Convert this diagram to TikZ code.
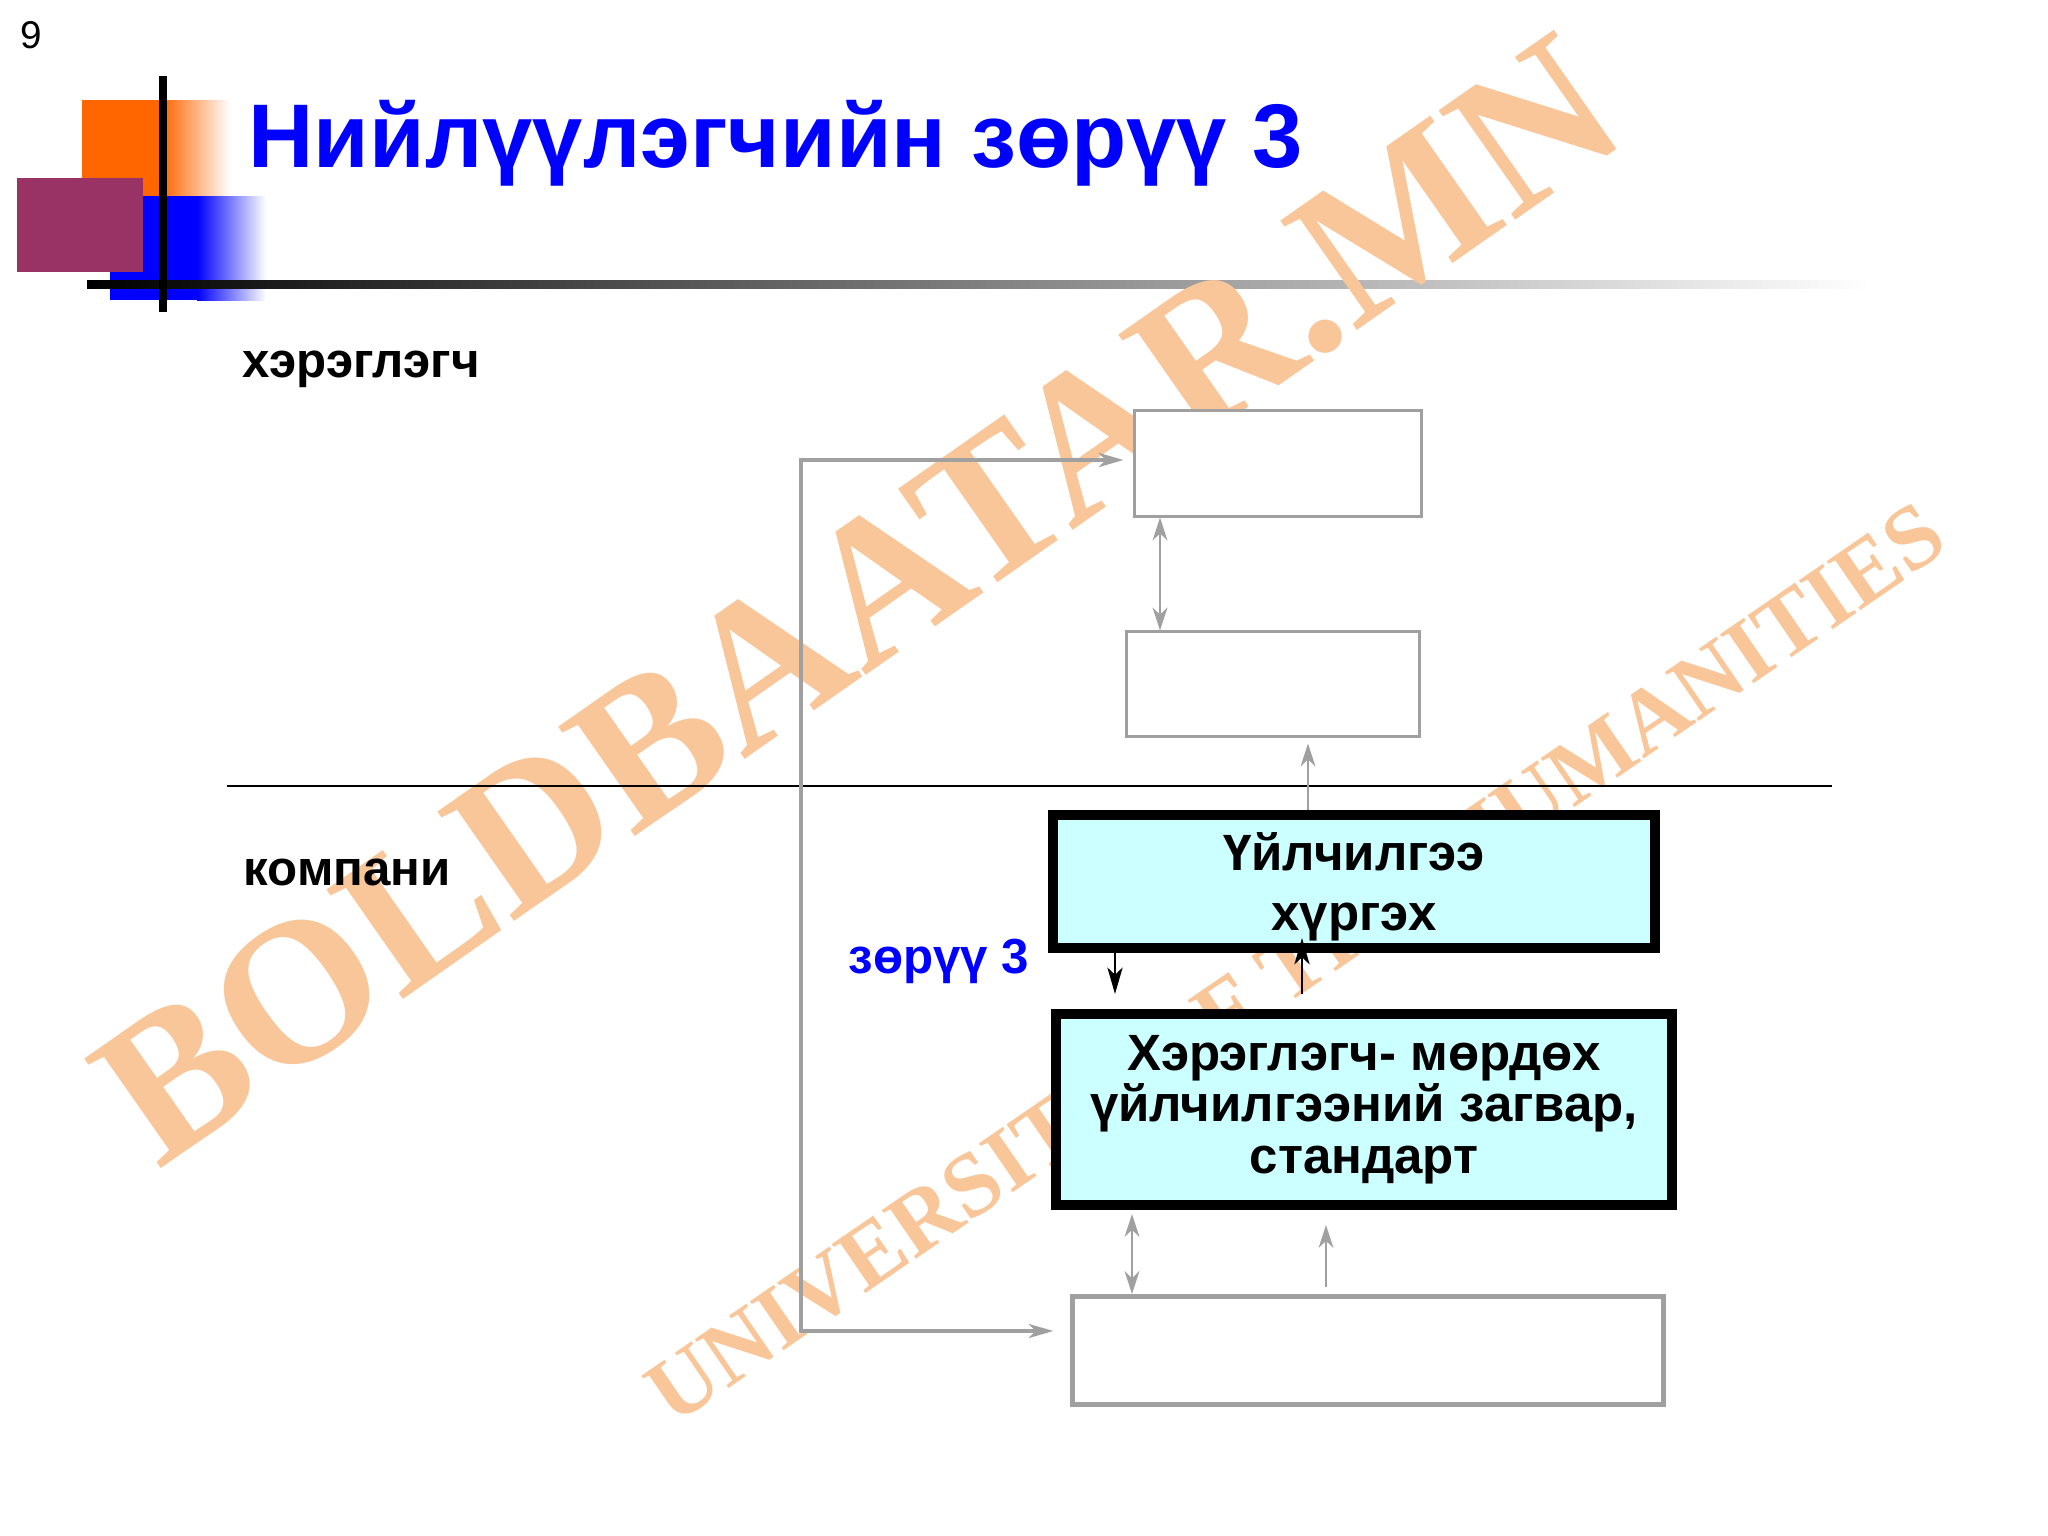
\documentclass[tikz,border=0pt]{standalone}
\usepackage{fontspec}
\setmainfont{Liberation Sans}
\newfontfamily\wmfont{Liberation Serif}
\usetikzlibrary{arrows.meta}
\definecolor{titleblue}{RGB}{0,0,255}
\definecolor{boxgray}{RGB}{160,160,160}
\definecolor{lightcyan}{RGB}{204,255,255}
\definecolor{decoorange}{RGB}{255,102,0}
\definecolor{decoblue}{RGB}{0,0,255}
\definecolor{decopurple}{RGB}{153,51,102}
\definecolor{wmorange}{RGB}{248,198,152}
\tikzset{
  graybox/.style={draw=boxgray, fill=white, line width=0.85pt, inner sep=0pt},
  cyanbox/.style={draw=black, fill=lightcyan, line width=2.8pt, align=center, inner sep=0pt},
  label/.style={font=\bfseries\fontsize{14}{16}\selectfont, anchor=base west, inner sep=0pt},
  grayarrow/.style={draw=boxgray, line width=0.7pt, -{Stealth[length=6.5pt,width=4.2pt,inset=2pt]}},
  graydouble/.style={draw=boxgray, line width=0.7pt, {Stealth[length=6.5pt,width=4.2pt,inset=2pt]}-{Stealth[length=6.5pt,width=4.2pt,inset=2pt]}},
  fbarrow/.style={draw=boxgray, line width=1pt, {Stealth[length=7pt,width=4pt,inset=2pt]}-{Stealth[length=7pt,width=4pt,inset=2pt]}},
  blackarrow/.style={draw=black, line width=0.8pt, -{Stealth[length=7.5pt,width=4.3pt,inset=2pt]}},
  wm/.style={text=wmorange, inner sep=0pt}
}
\begin{document}
\begin{tikzpicture}[x=0.01cm,y=-0.01cm]
\useasboundingbox (0,0) rectangle (2048,1536);
\fill[white] (0,0) rectangle (2048,1536);

% corner decoration
\fill[decoorange] (82,100) rectangle (163,196);
\shade[left color=decoorange,right color=white] (162,100) rectangle (230,196);
\fill[decoblue] (110,196) rectangle (198,300);
\shade[left color=decoblue,right color=white] (197,196) rectangle (266,300);
\fill[decopurple] (17,178) rectangle (143,272);
\shade[left color=black, middle color=gray!90, right color=white] (87,280) rectangle (1870,288);
\draw[line width=2pt] (163,76) -- (163,312);

% page number and title
\node[anchor=base, inner sep=0pt, font=\fontsize{11}{13}\selectfont] (pnum) at (31,48) {9};
\node[anchor=base west, inner sep=0pt, text=titleblue, font=\bfseries\fontsize{25.7}{30}\selectfont] (title) at (248,167) {Нийлүүлэгчийн зөрүү 3};

% watermark
\node[wm, rotate=35, font=\wmfont\bfseries\fontsize{58}{58}\selectfont] (wm1) at (858,600) {BOLDBAATAR.MN};
\node[wm, rotate=34.5, font=\wmfont\bfseries\fontsize{25.8}{26}\selectfont] (wm2) at (1296,963) {UNIVERSITY OF THE HUMANITIES};

% side labels and separator
\node[label] (user) at (242,377) {хэрэглэгч};
\node[label] (comp) at (243,885) {компани};
\coordinate (sepL) at (227,786);
\coordinate (sepR) at (1832,786);
\draw[line width=0.7pt] (sepL) -- (sepR);

% boxes
\node[graybox, minimum width=2.86cm, minimum height=1.05cm] (A) at (1278,463.5) {};
\node[graybox, minimum width=2.92cm, minimum height=1.04cm] (B) at (1273,684) {};
\node[cyanbox, minimum width=6.02cm, minimum height=1.33cm] (S) at (1354,881.5) {};
\node[align=center, inner sep=0pt, font=\bfseries\fontsize{14.5}{17}\selectfont] (St) at ([yshift=-0.05cm]S.center) {Үйлчилгээ\\хүргэх};
\node[cyanbox, minimum width=6.16cm, minimum height=1.91cm, font=\bfseries\fontsize{14.5}{14.7}\selectfont] (C) at (1364,1109.5) {Хэрэглэгч- мөрдөх\\үйлчилгээний загвар,\\стандарт};
\node[graybox, line width=1.4pt, minimum width=5.91cm, minimum height=1.08cm] (D) at (1368,1350.5) {};

\node[anchor=base west, inner sep=0pt, text=titleblue, font=\bfseries\fontsize{14}{16}\selectfont] (gap) at (848,973) {зөрүү 3};

% connector x positions
\coordinate (xab) at (1160,0);
\coordinate (xsb) at (1308,0);
\coordinate (xdn) at (1115,0);
\coordinate (xup) at (1302,0);
\coordinate (xcd) at (1132,0);
\coordinate (xdc) at (1326,0);
\coordinate (fbx) at (801,900);

% connectors
\draw[graydouble] (A.south -| xab) -- (B.north -| xab);
\draw[grayarrow, shorten >=0.06cm] (S.north -| xsb) -- (B.south -| xsb);
\draw[fbarrow, shorten <=0.1cm, shorten >=0.165cm] ([yshift=0.035cm]A.west) -| (fbx) |- ([yshift=0.195cm]D.west);
\draw[blackarrow, shorten >=0.15cm] (S.south -| xdn) -- (C.north -| xdn);
\draw[blackarrow, shorten <=0.15cm, shorten >=-0.15cm] (C.north -| xup) -- (S.south -| xup);
\draw[graydouble, shorten <=0.04cm] (C.south -| xcd) -- (D.north -| xcd);
\draw[grayarrow, shorten <=0.07cm, shorten >=0.15cm] (D.north -| xdc) -- (C.south -| xdc);
\end{tikzpicture}
\end{document}
